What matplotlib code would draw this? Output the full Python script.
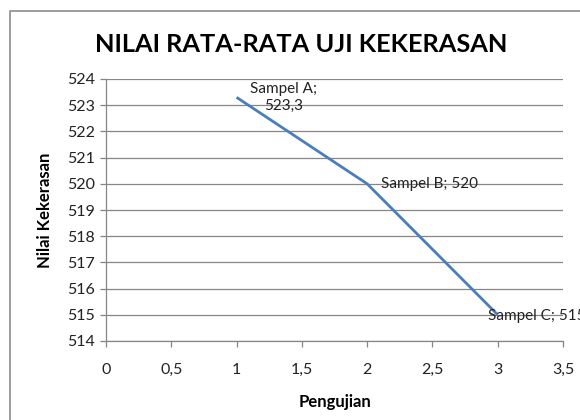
import matplotlib
matplotlib.use('Agg')
import matplotlib.pyplot as plt
from matplotlib.lines import Line2D
from matplotlib.ticker import FuncFormatter

# data
pengujian = [1, 2, 3]
nilai = [523.3, 520, 515]
labels = ['Sampel A;\n523,3', 'Sampel B; 520', 'Sampel C; 515']

x_ticks = [0, 0.5, 1, 1.5, 2, 2.5, 3, 3.5]
y_ticks = list(range(514, 525))

plt.rcParams['font.family'] = ['Lato', 'DejaVu Sans']

grey = '#868686'
fig = plt.figure(figsize=(5.8, 4.2), dpi=100)
ax = fig.add_axes([106 / 580, 1 - 341 / 420, (563 - 106) / 580, (341 - 79) / 420])

ax.plot(pengujian, nilai, color='#4A7EBB', linewidth=2.0, solid_capstyle='butt')

# label offsets in points (style, not data)
offsets = [(10, 0), (10, 0), (-7, -1)]
for x, y, t, off in zip(pengujian, nilai, labels, offsets):
    ax.annotate(t, (x, y), xytext=off, textcoords='offset points',
                ha='left', va='center', multialignment='center',
                fontsize=11, color='#222222', annotation_clip=False)

ax.set_xlim(0, 3.5)
ax.set_ylim(514, 524)
ax.set_xticks(x_ticks)
ax.set_yticks(y_ticks)
ax.xaxis.set_major_formatter(FuncFormatter(lambda v, p: ('%g' % v).replace('.', ',')))
ax.yaxis.grid(True, color=grey, linewidth=0.9)
ax.set_axisbelow(True)
for s in ['top', 'right']:
    ax.spines[s].set_visible(False)
for s in ['left', 'bottom']:
    ax.spines[s].set_color(grey)
    ax.spines[s].set_linewidth(0.9)
ax.tick_params(axis='both', colors=grey, length=4, width=0.9, labelsize=11.5, labelcolor='#222222')
ax.tick_params(axis='x', pad=12)
ax.tick_params(axis='y', pad=4)

ax.set_xlabel('Pengujian', fontsize=12, fontweight='bold', labelpad=12)
ax.set_ylabel('Nilai Kekerasan', fontsize=12, fontweight='bold', labelpad=10)

fig.text(301 / 580, 1 - 45 / 420, 'NILAI RATA-RATA UJI KEKERASAN', ha='center', va='center',
         fontsize=18.3, fontweight='bold', color='black')

# chart area border
fig.add_artist(Line2D([10 / 580, 10 / 580, 1.0], [0, 1 - 11 / 420, 1 - 11 / 420],
                      transform=fig.transFigure, color='#8c8c8c', linewidth=1.2))

fig.savefig('out.png', dpi=100)
